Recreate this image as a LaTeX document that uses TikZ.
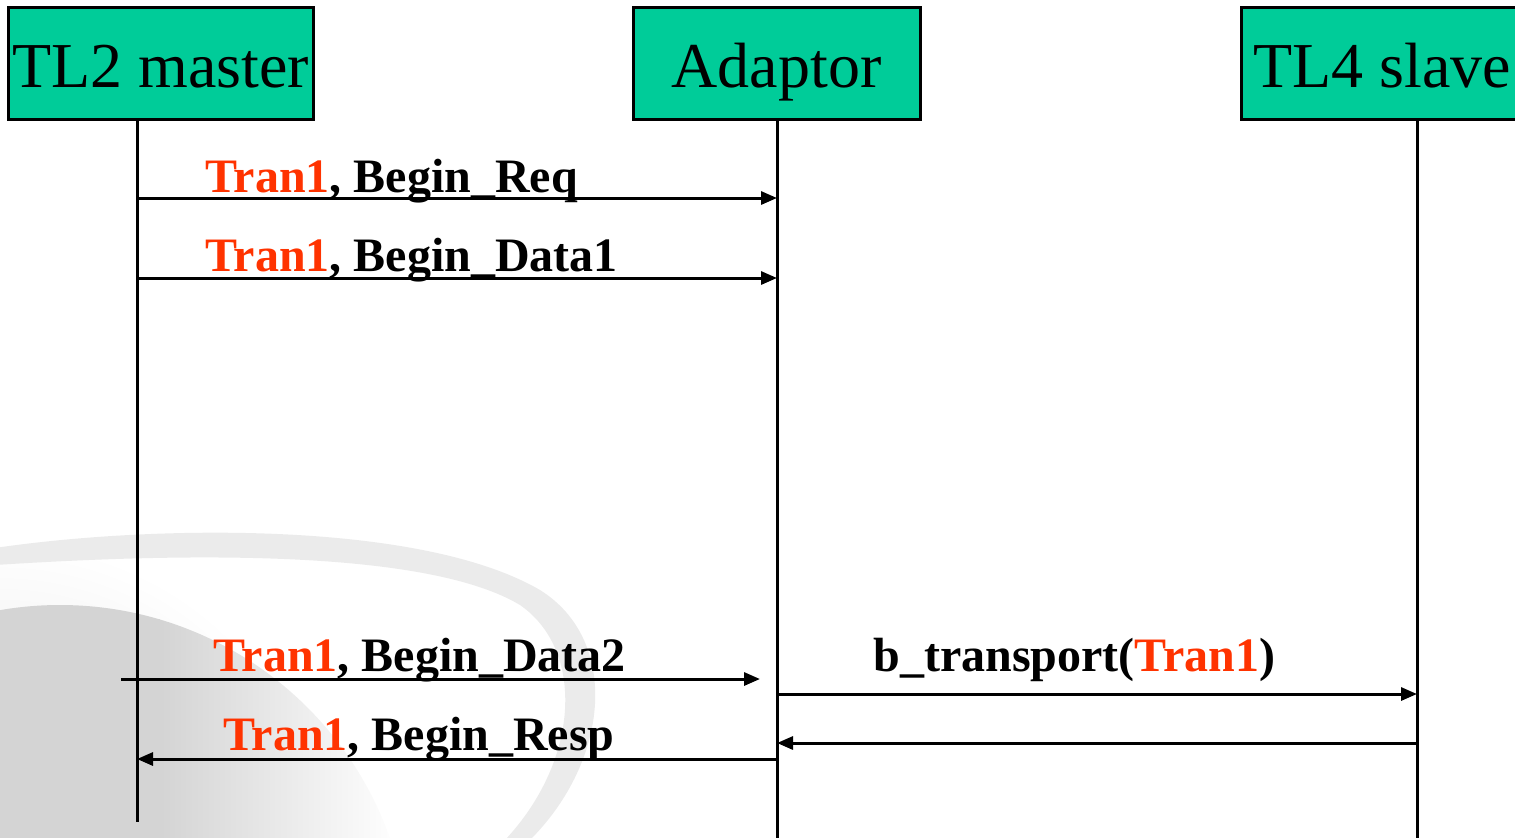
\documentclass[tikz,border=0pt]{standalone}
\usepackage{fontspec}
\setmainfont{Liberation Serif}
\usetikzlibrary{arrows.meta}
\definecolor{boxgreen}{RGB}{0,204,153}
\definecolor{tranred}{RGB}{255,51,0}
\newcommand\trn{\textcolor{tranred}{Tran1}}

\begin{document}
\begin{tikzpicture}[x=0.5pt,y=-0.5pt,
  actor/.style={draw=black,line width=1.5pt,fill=boxgreen,inner sep=0pt,
    minimum height=56pt,text height=28pt,text depth=4pt,
    font=\fontsize{32}{36}\selectfont},
  lifeline/.style={line width=1.5pt},
  msg/.style={line width=1.5pt,-{Triangle[length=8pt,width=6.5pt]}},
  lbl/.style={anchor=base west,inner sep=0pt,
    font=\bfseries\fontsize{24}{28}\selectfont}
]
\useasboundingbox (0,0) rectangle (1515,837);

% faint globe watermark in the lower left corner
\begin{scope}
  \clip (0,0) rectangle (1515,837);
  \shade[inner color=black!12,outer color=white] (0,870) circle[radius=330];
  \begin{scope}
    \clip (60,955) circle[radius=350];
    \fill[black!17] (-10,560) rectangle (160,860);
    \shade[left color=black!17,right color=white] (159,560) rectangle (400,860);
  \end{scope}
  \fill[black!8] (-5,548) .. controls (150,525) and (420,520) .. (540,590)
    .. controls (620,640) and (610,760) .. (530,840)
    -- (505,840) .. controls (580,760) and (585,650) .. (520,605)
    .. controls (420,545) and (150,555) .. (-5,565) -- cycle;
\end{scope}

% participants
\begin{scope}
  \clip (0,0) rectangle (1515,837);
  \node[actor,minimum width=152.5pt] (tl2) at (160.5,63) {TL2 master};
  \node[actor,minimum width=143.5pt] (adp) at (776.5,63) {Adaptor};
  \node[actor,minimum width=141.5pt] (tl4) at (1382.5,63) {TL4 slave};
\end{scope}

% lifelines
\coordinate (mEnd) at (137,822);
\coordinate (aEnd) at (777,842);
\coordinate (sEnd) at (1417,842);
\draw[lifeline] (tl2.south -| mEnd) -- (mEnd);
\draw[lifeline] (adp.south -| aEnd) -- (aEnd);
\draw[lifeline] (tl4.south -| sEnd) -- (sEnd);

% message end points
\coordinate (m1) at (137,198); \coordinate (a1) at (777,198);
\coordinate (m2) at (137,278); \coordinate (a2) at (777,278);
\coordinate (m3) at (121,679); \coordinate (a3) at (760,679);
\coordinate (a4) at (777,694); \coordinate (s4) at (1417,694);
\coordinate (s5) at (1417,743); \coordinate (a5) at (777,743);
\coordinate (a6) at (777,759); \coordinate (m6) at (137,759);

% messages
\draw[msg] (m1) -- (a1);
\draw[msg] (m2) -- (a2);
\draw[msg] (m3) -- (a3);
\draw[msg] (a4) -- (s4);
\draw[msg] (s5) -- (a5);
\draw[msg] (a6) -- (m6);

% message labels
\node[lbl] (t1) at (205,192) {\trn, Begin\_Req};
\node[lbl] (t2) at (205,271) {\trn, Begin\_Data1};
\node[lbl] (t3) at (213,671) {\trn, Begin\_Data2};
\node[lbl] (t4) at (873,671) {b\_transport(\trn)};
\node[lbl] (t6) at (223,750) {\trn, Begin\_Resp};
\end{tikzpicture}
\end{document}
